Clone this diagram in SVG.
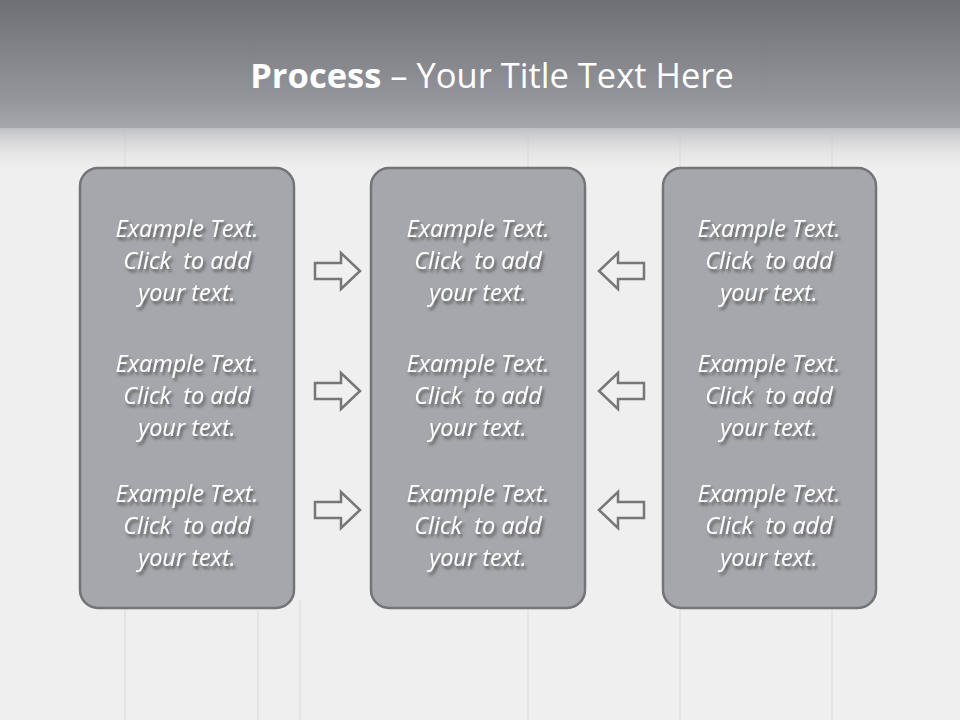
<svg xmlns="http://www.w3.org/2000/svg" width="960" height="720" viewBox="0 0 960 720">
<defs>
<linearGradient id="top" x1="0" y1="0" x2="0" y2="1">
<stop offset="0" stop-color="#6f7075"/>
<stop offset="0.75" stop-color="#93949a"/>
<stop offset="1" stop-color="#a6a7ac"/>
</linearGradient>
<linearGradient id="fade" x1="0" y1="0" x2="0" y2="1">
<stop offset="0" stop-color="#b9babd"/>
<stop offset="1" stop-color="#efefef" stop-opacity="0"/>
</linearGradient>
<filter id="sh" x="-20%" y="-20%" width="140%" height="160%">
<feDropShadow dx="2" dy="3" stdDeviation="1.6" flood-color="#3a3a3a" flood-opacity="0.75"/>
</filter>
<path id="ra" d="M0,-8 L26,-8 L26,-18 L45,0 L26,18 L26,8 L0,8 Z"/>
<path id="la" d="M45,-8 L19,-8 L19,-18 L0,0 L19,18 L19,8 L45,8 Z"/>
</defs>
<style>
.box{fill:#a6a7ac;stroke:#737478;stroke-width:2.5}
.t{font-family:"Open Sans","Liberation Sans",sans-serif;font-style:italic;font-size:23.5px;fill:#ffffff;text-anchor:middle;white-space:pre}
.arr{fill:#f0f0f0;stroke:#777777;stroke-width:2.5;stroke-linejoin:miter}
.plank{stroke:#e0e0e0;stroke-width:1.5}
</style>
<rect x="0" y="0" width="960" height="720" fill="#efefef"/>
<g class="plank">
<line x1="125" y1="130" x2="125" y2="720"/>
<line x1="528" y1="130" x2="528" y2="720"/>
<line x1="680" y1="130" x2="680" y2="720"/>
<line x1="832" y1="130" x2="832" y2="720"/>
<line x1="300" y1="600" x2="300" y2="720"/>
<line x1="258" y1="610" x2="258" y2="720"/>
</g>
<rect x="0" y="125" width="960" height="50" fill="url(#fade)"/>
<rect x="0" y="0" width="960" height="128" fill="url(#top)"/>
<text x="492" y="88" text-anchor="middle" font-family="'Open Sans','Liberation Sans',sans-serif" font-size="34.5" fill="#ffffff"><tspan font-weight="bold">Process</tspan> – Your Title Text Here</text>
<g id="box1">
<rect class="box" x="80" y="168" width="214" height="440" rx="18"/>
<g filter="url(#sh)">
<text class="t" x="187" y="237">Example Text.</text>
<text class="t" x="187" y="269">Click  to add</text>
<text class="t" x="187" y="301">your text.</text>
<text class="t" x="187" y="372">Example Text.</text>
<text class="t" x="187" y="404">Click  to add</text>
<text class="t" x="187" y="436">your text.</text>
<text class="t" x="187" y="502">Example Text.</text>
<text class="t" x="187" y="534">Click  to add</text>
<text class="t" x="187" y="566">your text.</text>
</g>
</g>
<g id="box2">
<rect class="box" x="371" y="168" width="214" height="440" rx="18"/>
<g filter="url(#sh)">
<text class="t" x="478" y="237">Example Text.</text>
<text class="t" x="478" y="269">Click  to add</text>
<text class="t" x="478" y="301">your text.</text>
<text class="t" x="478" y="372">Example Text.</text>
<text class="t" x="478" y="404">Click  to add</text>
<text class="t" x="478" y="436">your text.</text>
<text class="t" x="478" y="502">Example Text.</text>
<text class="t" x="478" y="534">Click  to add</text>
<text class="t" x="478" y="566">your text.</text>
</g>
</g>
<g id="box3">
<rect class="box" x="663" y="168" width="213" height="440" rx="18"/>
<g filter="url(#sh)">
<text class="t" x="769" y="237">Example Text.</text>
<text class="t" x="769" y="269">Click  to add</text>
<text class="t" x="769" y="301">your text.</text>
<text class="t" x="769" y="372">Example Text.</text>
<text class="t" x="769" y="404">Click  to add</text>
<text class="t" x="769" y="436">your text.</text>
<text class="t" x="769" y="502">Example Text.</text>
<text class="t" x="769" y="534">Click  to add</text>
<text class="t" x="769" y="566">your text.</text>
</g>
</g>
<g id="connectors">
<use href="#ra" class="arr" x="315" y="271"/>
<use href="#ra" class="arr" x="315" y="391"/>
<use href="#ra" class="arr" x="315" y="510"/>
<use href="#la" class="arr" x="599" y="271"/>
<use href="#la" class="arr" x="599" y="391"/>
<use href="#la" class="arr" x="599" y="510"/>
</g>
</svg>
